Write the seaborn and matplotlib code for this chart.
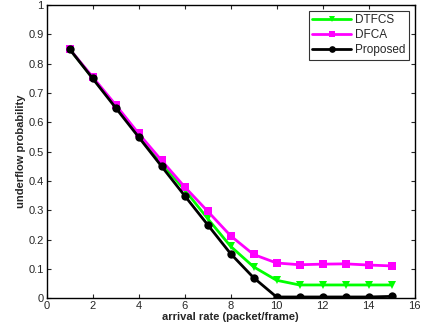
import numpy as np
import pandas as pd
import seaborn as sns
import matplotlib.pyplot as plt

arrival = [1, 2, 3, 4, 5, 6, 7, 8, 9, 10, 11, 12, 13, 14, 15]
dtfcs = [0.85, 0.752, 0.655, 0.555, 0.46, 0.37, 0.272, 0.177, 0.107, 0.061, 0.045, 0.045, 0.045, 0.045, 0.045]
dfca = [0.85, 0.755, 0.66, 0.562, 0.47, 0.38, 0.297, 0.213, 0.149, 0.12, 0.114, 0.116, 0.117, 0.113, 0.11]
proposed = [0.85, 0.75, 0.65, 0.55, 0.45, 0.35, 0.251, 0.152, 0.07, 0.004, 0.004, 0.004, 0.004, 0.004, 0.006]

sns.set_style('white')
plt.rcParams['font.family'] = ['Liberation Sans', 'DejaVu Sans']

df = pd.DataFrame({
    'arrival': arrival * 3,
    'value': dtfcs + dfca + proposed,
    'scheme': ['DTFCS'] * 15 + ['DFCA'] * 15 + ['Proposed'] * 15,
})

fig, ax = plt.subplots(figsize=(4.23, 3.35), dpi=100)
sns.lineplot(data=df, x='arrival', y='value', hue='scheme', style='scheme',
             palette={'DTFCS': '#00ff00', 'DFCA': '#ff00ff', 'Proposed': 'black'},
             markers={'DTFCS': 'v', 'DFCA': 's', 'Proposed': 'o'},
             dashes=False, linewidth=2, markersize=6, markeredgewidth=0, ax=ax)

ax.set_xlim(0, 16)
ax.set_ylim(0, 1)
ax.set_xticks(np.arange(0, 17, 2))
ax.set_yticks(np.arange(0, 1.01, 0.1))
ax.set_yticklabels(['0', '0.1', '0.2', '0.3', '0.4', '0.5', '0.6', '0.7', '0.8', '0.9', '1'])
ax.tick_params(direction='in', length=3, labelsize=8, top=True, right=True,
               bottom=True, left=True, pad=2)
for s in ax.spines.values():
    s.set_color('black')
    s.set_linewidth(1)
ax.set_xlabel('arrival rate (packet/frame)', fontsize=8, fontweight='bold', labelpad=1)
ax.set_ylabel('underflow probability', fontsize=8, fontweight='bold', labelpad=2)
leg = ax.legend(loc='upper right', fontsize=8.5, frameon=True, fancybox=False,
                edgecolor='black', borderpad=0.3, labelspacing=0.25,
                handlelength=3.3, handletextpad=0.3, borderaxespad=0.5,
                markerscale=0.8)
leg.get_frame().set_linewidth(0.8)

plt.subplots_adjust(left=0.11, right=0.98, top=0.985, bottom=0.11)
fig.savefig('out.png', dpi=100)
